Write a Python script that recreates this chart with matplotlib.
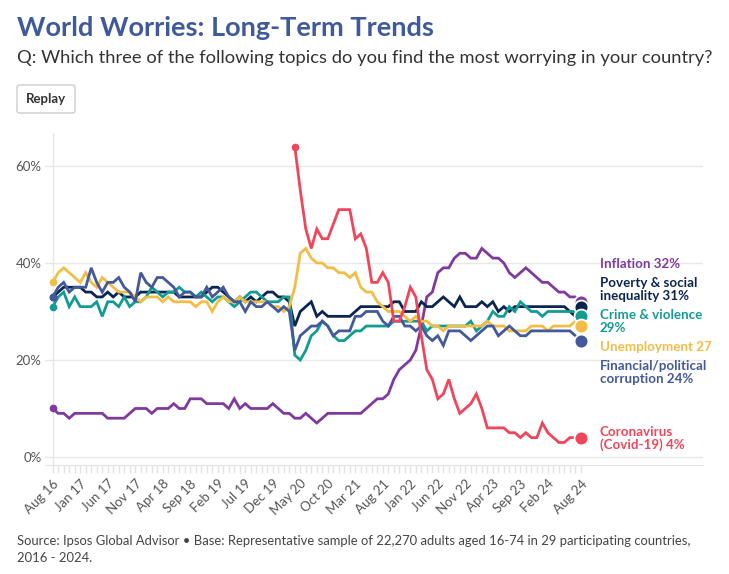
import numpy as np
import matplotlib
matplotlib.use("Agg")
import matplotlib.pyplot as plt
from matplotlib.patches import FancyBboxPatch

plt.rcParams['font.family'] = ['Lato', 'DejaVu Sans']

# ---------------- data (monthly, Aug 2016 .. Aug 2024) ----------------
tick_labels = ["Aug 16", "Jan 17", "Jun 17", "Nov 17", "Apr 18", "Sep 18", "Feb 19",
               "Jul 19", "Dec 19", "May 20", "Oct 20", "Mar 21", "Aug 21", "Jan 22",
               "Jun 22", "Nov 22", "Apr 23", "Sep 23", "Feb 24", "Aug 24"]
tick_months = [0, 5, 10, 15, 20, 25, 30, 35, 40, 45, 50, 55, 60, 65, 70, 75, 80, 85, 90, 96]

inflation = [10, 9, 9, 8, 9, 9, 9, 9, 9, 9, 8, 8, 8, 8, 9, 10, 10, 10, 9, 10,
             10, 10, 11, 10, 10, 12, 12, 12, 11, 11, 11, 11, 10, 12, 10, 11, 10, 10, 10, 10,
             11, 10, 9, 9, 8, 8, 9, 8, 7, 8, 9, 9, 9, 9, 9, 9, 9, 10, 11, 12,
             12, 13, 16, 18, 19, 20, 22, 27, 33, 34, 38, 39, 39, 41, 42, 42, 41, 41, 43, 42,
             41, 41, 40, 38, 37, 38, 39, 38, 37, 36, 36, 35, 34, 34, 33, 33, 32]
poverty = [33, 34, 35, 35, 35, 35, 34, 34, 33, 33, 34, 33, 34, 33, 33, 33, 34, 34, 34, 34,
           34, 34, 34, 33, 33, 33, 33, 33, 34, 35, 35, 34, 33, 32, 33, 32, 33, 32, 33, 34,
           34, 33, 33, 32, 27, 30, 31, 32, 29, 30, 29, 29, 29, 29, 29, 30, 31, 31, 31, 31,
           31, 31, 32, 32, 30, 30, 30, 32, 31, 31, 32, 33, 32, 31, 33, 31, 31, 31, 32, 31,
           32, 30, 31, 30, 31, 31, 31, 31, 31, 31, 31, 31, 31, 31, 30, 29, 31]
crime = [31, 33, 34, 31, 33, 31, 31, 31, 32, 29, 32, 32, 31, 33, 31, 32, 32, 33, 35, 34,
         33, 34, 34, 35, 34, 34, 33, 34, 33, 32, 33, 33, 32, 31, 32, 33, 34, 34, 33, 32,
         32, 32, 33, 33, 21, 20, 22, 25, 26, 28, 27, 25, 24, 24, 25, 26, 26, 27, 27, 27,
         27, 27, 28, 28, 28, 28, 28, 28, 26, 27, 27, 27, 27, 27, 27, 27, 28, 26, 27, 28,
         30, 29, 29, 31, 30, 32, 31, 30, 30, 29, 30, 30, 30, 30, 30, 30, 29]
unemployment = [36, 38, 39, 38, 37, 36, 38, 36, 35, 37, 36, 35, 34, 34, 34, 33, 32, 33, 33, 33,
                32, 33, 32, 32, 32, 32, 31, 32, 32, 30, 32, 33, 32, 32, 33, 32, 32, 32, 32, 32,
                31, 31, 30, 31, 35, 42, 43, 41, 40, 40, 39, 39, 38, 38, 37, 38, 35, 34, 34, 32,
                31, 30, 30, 30, 29, 28, 29, 28, 28, 27, 27, 26, 27, 27, 27, 27, 27, 27, 27, 28,
                27, 27, 27, 26, 26, 26, 26, 27, 27, 27, 26, 27, 27, 27, 27, 28, 27]
corruption = [33, 35, 36, 34, 35, 35, 35, 39, 36, 34, 36, 36, 37, 35, 34, 32, 38, 36, 35, 37,
              37, 36, 35, 33, 34, 34, 33, 33, 35, 33, 34, 35, 33, 32, 32, 30, 32, 31, 31, 32,
              31, 30, 31, 30, 22, 25, 26, 27, 27, 28, 27, 25, 26, 26, 26, 29, 29, 30, 30, 30,
              28, 27, 29, 29, 27, 27, 26, 27, 25, 24, 25, 23, 26, 26, 26, 25, 24, 25, 26, 27,
              27, 25, 26, 27, 26, 25, 25, 26, 26, 26, 26, 26, 26, 26, 26, 25, 24]
covid = [np.nan] * 44 + [64, 55, 47, 43, 47, 45, 45, 48, 51, 51, 51, 45, 46, 43, 36, 36,
                         38, 36, 28, 28, 31, 35, 33, 25, 18, 16, 12, 13, 16, 12, 9, 10, 11, 13,
                         10, 6, 6, 6, 6, 5, 5, 4, 5, 4, 4, 7, 5, 4, 3, 3, 4, 4, 4]

series_names = ["Inflation", "Poverty & social inequality", "Crime & violence",
                "Unemployment", "Financial/political corruption", "Coronavirus (Covid-19)"]
series_data = [inflation, poverty, crime, unemployment, corruption, covid]
colors = ["#7E3A9E", "#0B2550", "#129B93", "#F2BD45", "#43599B", "#F0455A"]
end_labels = [["Inflation 32%"], ["Poverty & social", "inequality 31%"],
              ["Crime & violence", "29%"], ["Unemployment 27"],
              ["Financial/political", "corruption 24%"], ["Coronavirus", "(Covid-19) 4%"]]
label_y_px = [[264], [283, 296], [315, 328], [347], [366, 379], [432, 445]]

W, H = 729, 574
fig = plt.figure(figsize=(W / 100, H / 100), dpi=100)
fig.patch.set_facecolor("white")

ax_l, ax_r, ax_b, ax_t = 45, 703, 465, 133
ax = fig.add_axes([ax_l / W, 1 - ax_b / H, (ax_r - ax_l) / W, (ax_b - ax_t) / H])
ax.set_xlim(-1.4, 118.2)
ax.set_ylim(-1.65, 66.8)
for s in ax.spines.values():
    s.set_visible(False)
ax.spines['bottom'].set_visible(True)
ax.spines['bottom'].set_color("#e3e3e3")

grid_c = "#e8e8e8"
for v in [0, 20, 40, 60]:
    ax.axhline(v, color=grid_c, lw=1, zorder=0)
ax.axvline(0, color=grid_c, lw=1, zorder=0)

ax.set_yticks([0, 20, 40, 60])
ax.set_yticklabels(["0%", "20%", "40%", "60%"], fontsize=9.5, color="#555555")
ax.tick_params(axis='y', length=0, pad=2.5)

ax.set_xticks(range(97), minor=True)
ax.set_xticks(tick_months)
ax.set_xticklabels(tick_labels, rotation=45, ha='right', rotation_mode='anchor',
                   fontsize=9.5, color="#555555")
ax.tick_params(axis='x', which='both', length=6, color="#e3e3e3", width=1, pad=3)

months = np.arange(97)
for name, data, c in zip(series_names, series_data, colors):
    d = np.array(data, dtype=float)
    ax.plot(months, d, color=c, lw=2.0, solid_joinstyle='miter', zorder=3)
    first = np.where(~np.isnan(d))[0][0]
    ax.plot(months[first], d[first], 'o', color=c, ms=4.5, zorder=4)

for data, c in zip(series_data, colors):
    ax.plot(months[-1], data[-1], 'o', color=c, ms=10, mec='white', mew=1.3, zorder=5)

for lines, ys, c in zip(end_labels, label_y_px, colors):
    for t, y in zip(lines, ys):
        fig.text(600 / W, 1 - y / H, t, color=c, fontsize=9.6, fontweight='bold',
                 ha='left', va='center')

fig.text(17 / W, 1 - 28 / H, "World Worries: Long-Term Trends", color="#3F5A9B",
         fontsize=19.5, fontweight='bold', ha='left', va='center')
fig.text(17 / W, 1 - 58 / H,
         "Q: Which three of the following topics do you find the most worrying in your country?",
         color="#333333", fontsize=13.2, ha='left', va='center')

btn = FancyBboxPatch((17 / W, 1 - 113 / H), 58 / W, 28 / H,
                     boxstyle="round,pad=0,rounding_size=0.004", transform=fig.transFigure,
                     facecolor="white", edgecolor="#cccccc", lw=1)
fig.patches.append(btn)
fig.text(46 / W, 1 - 99 / H, "Replay", color="#333333", fontsize=9.5, fontweight='bold',
         ha='center', va='center')

fig.text(17 / W, 1 - 541 / H,
         "Source: Ipsos Global Advisor \u2022 Base: Representative sample of 22,270 adults aged 16-74 in 29 participating countries,",
         color="#444444", fontsize=9.35, ha='left', va='center')
fig.text(17 / W, 1 - 558 / H, "2016 - 2024.", color="#444444", fontsize=9.35,
         ha='left', va='center')

fig.savefig("out.png", dpi=100, facecolor="white")
